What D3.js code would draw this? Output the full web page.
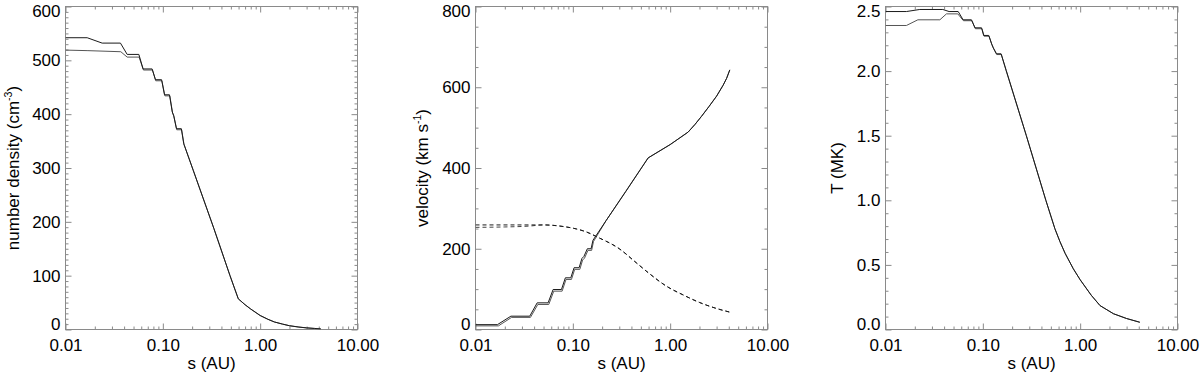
<!DOCTYPE html>
<html><head><meta charset="utf-8">
<script src="https://cdn.jsdelivr.net/npm/d3@7"></script>
<style>
body{margin:0;background:#fff}
svg{display:block}
text{font-family:"Liberation Sans",Arial,Helvetica,sans-serif;fill:#000}
</style>
</head><body>
<svg id="c" width="1200" height="375"></svg>
<script>
// ---------- data ----------
const xTicks = [0.01, 0.1, 1, 10];
const xTickLabels = ["0.01", "0.10", "1.00", "10.00"];

const densTicks = [0, 100, 200, 300, 400, 500, 600];
const velTicks = [0, 200, 400, 600, 800];
const tempTicks = [0, 0.5, 1.0, 1.5, 2.0, 2.5];

// number density (cm^-3) vs s (AU)
const densUpperS = [0.01,0.0167,0.0238,0.0367,0.043,0.0567,0.0627,0.0776,0.084,0.0971,0.104,0.117,0.125,0.129,0.138,0.155,0.164,0.205,0.334,0.49,0.596,0.7,0.8,1.0,1.2,1.4,1.7,2.0,2.5,3.0,3.6,4.2];
const densUpperV = [542,542,532,532,511,511,484,484,464,464,436,436,404,398,373,373,345,296,188,100,57,46,38,26,19,14,10,7,4.5,3,2,1];
const densLowerS = [0.01,0.017,0.037,0.043,0.057,0.0632,0.0783,0.0846,0.0978,0.105,0.118,0.126,0.13,0.139,0.156,0.165,0.205,0.334,0.49,0.596,0.7,0.8,1.0,1.2,1.4,1.7,2.0,2.5,3.0,3.6,4.2];
const densLowerV = [519,518,516,506,506,482,482,462,462,434,434,402,396,371,371,344,296,188,100,57,46,38,26,19,14,10,7,4.5,3,2,1];

// velocity (km/s) vs s (AU)
const velUpperS = [0.01,0.0168,0.0231,0.0361,0.043,0.0557,0.0627,0.0764,0.0838,0.0953,0.103,0.116,0.124,0.13,0.141,0.154,0.161,0.22,0.35,0.594,1.0,1.53,1.8,2.1,2.5,3.0,3.5,3.8,4.1];
const velUpperV = [12,12,33,33,66,66,99,99,128,128,153,153,176,181,200,200,221,270,342,425,458,489,508,528,552,578,605,622,643];
const velLowerS = [0.01,0.0172,0.0235,0.0367,0.0437,0.0566,0.0637,0.0776,0.0851,0.0968,0.1045,0.118,0.126,0.132,0.143,0.156,0.163,0.22,0.35,0.594,1.0,1.53,1.8,2.1,2.5,3.0,3.5,3.8,4.1];
const velLowerV = [9,9,30,30,62,62,95,95,124,124,149,149,172,177,196,196,218,270,342,425,458,489,508,528,552,578,605,622,643];
const velDashUpperS = [0.01,0.03,0.05,0.08,0.109,0.14,0.175,0.3,0.45,0.6,0.92,1.35,2.0,3.0,4.1];
const velDashUpperV = [259,259,259,255,249,241,230,200,165,140,107,86,67,52,43];
const velDashLowerS = [0.01,0.02,0.035,0.05,0.08,0.109,0.14,0.175,0.3,0.45,0.6,0.92,1.35,2.0,3.0,4.1];
const velDashLowerV = [253,254,256,259,255,249,241,230,200,165,140,107,86,67,52,43];

// temperature (MK) vs s (AU)
const tempUpperS = [0.01,0.0164,0.0225,0.0388,0.045,0.0558,0.0627,0.0764,0.083,0.097,0.102,0.115,0.123,0.128,0.138,0.154,0.174,0.28,0.444,0.55,0.62,0.7,0.85,1.0,1.3,1.6,2.2,3.0,4.1];
const tempUpperV = [2.461,2.461,2.477,2.477,2.461,2.461,2.397,2.397,2.335,2.335,2.276,2.276,2.211,2.18,2.134,2.134,2.005,1.5,1.0,0.78,0.68,0.59,0.47,0.385,0.265,0.185,0.122,0.085,0.056];
const tempLowerS = [0.01,0.0164,0.0215,0.0362,0.0423,0.0553,0.0632,0.0772,0.0838,0.098,0.103,0.116,0.124,0.129,0.139,0.155,0.174,0.28,0.444,0.55,0.62,0.7,0.85,1.0,1.3,1.6,2.2,3.0,4.1];
const tempLowerV = [2.353,2.353,2.397,2.397,2.443,2.443,2.39,2.39,2.328,2.328,2.27,2.27,2.205,2.175,2.128,2.128,2.0,1.5,1.0,0.78,0.68,0.59,0.47,0.385,0.265,0.185,0.122,0.085,0.056];

// ---------- drawing ----------
const svg = d3.select("#c");
const TOP = 6.5, BOTTOM = 329.5, W = 292;
const FRAME = "#8a8a8a", LINE = "#1a1a1a";
const FS = 17;

function zip(s, v) { return s.map((d, i) => [d, v[i]]); }

function drawPanel(o) {
  const x = d3.scaleLog().domain([0.01, 10]).range([o.left, o.left + W]);
  const y = d3.scaleLinear().domain(o.yDomain).range([BOTTOM, TOP]);
  const g = svg.append("g");

  const xMinor = x.ticks().filter(t => !xTicks.some(m => Math.abs(m - t) / m < 1e-6));
  const yMinor = d3.range(o.yDomain[0], o.yDomain[1] + 1e-9, o.yMinorStep)
    .filter(t => !o.yTicks.some(m => Math.abs(m - t) < 1e-6));

  const styleAxis = sel => {
    sel.select(".domain").remove();
    sel.selectAll(".tick line").attr("stroke", FRAME).attr("stroke-width", 1);
    sel.selectAll("text").attr("font-size", FS).attr("font-family", null).attr("fill", "#000");
  };

  // bottom
  g.append("g").attr("transform", `translate(0,${BOTTOM})`)
    .call(d3.axisBottom(x).tickValues(xTicks).tickSizeInner(-6).tickSizeOuter(0).tickPadding(9)
      .tickFormat((d, i) => xTickLabels[i])).call(styleAxis);
  g.append("g").attr("transform", `translate(0,${BOTTOM})`)
    .call(d3.axisBottom(x).tickValues(xMinor).tickSizeInner(-3).tickSizeOuter(0).tickFormat("")).call(styleAxis);
  // top
  g.append("g").attr("transform", `translate(0,${TOP})`)
    .call(d3.axisTop(x).tickValues(xTicks).tickSizeInner(-6).tickSizeOuter(0).tickFormat("")).call(styleAxis);
  g.append("g").attr("transform", `translate(0,${TOP})`)
    .call(d3.axisTop(x).tickValues(xMinor).tickSizeInner(-3).tickSizeOuter(0).tickFormat("")).call(styleAxis);
  // left
  const la = g.append("g").attr("transform", `translate(${o.left},0)`)
    .call(d3.axisLeft(y).tickValues(o.yTicks).tickSizeInner(-6).tickSizeOuter(0).tickPadding(5)
      .tickFormat(o.yFmt)).call(styleAxis);
  la.selectAll(".tick text").attr("y", d => {
    const p = y(d);
    return Math.min(Math.max(p, TOP + 5), BOTTOM - 5) - p;
  });
  g.append("g").attr("transform", `translate(${o.left},0)`)
    .call(d3.axisLeft(y).tickValues(yMinor).tickSizeInner(-3).tickSizeOuter(0).tickFormat("")).call(styleAxis);
  // right
  g.append("g").attr("transform", `translate(${o.left + W},0)`)
    .call(d3.axisRight(y).tickValues(o.yTicks).tickSizeInner(-6).tickSizeOuter(0).tickFormat("")).call(styleAxis);
  g.append("g").attr("transform", `translate(${o.left + W},0)`)
    .call(d3.axisRight(y).tickValues(yMinor).tickSizeInner(-3).tickSizeOuter(0).tickFormat("")).call(styleAxis);

  // frame
  g.append("rect").attr("x", o.left).attr("y", TOP).attr("width", W).attr("height", BOTTOM - TOP)
    .attr("fill", "none").attr("stroke", FRAME).attr("stroke-width", 1);

  // clip
  const cid = "clip" + o.left;
  svg.append("clipPath").attr("id", cid).append("rect")
    .attr("x", o.left).attr("y", TOP - 1).attr("width", W).attr("height", BOTTOM - TOP + 1);

  const line = d3.line().x(d => x(d[0])).y(d => y(d[1]));
  const smooth = d3.line().x(d => x(d[0])).y(d => y(d[1])).curve(d3.curveMonotoneX);
  const lg = g.append("g").attr("clip-path", `url(#${cid})`);
  o.series.forEach(sr => {
    lg.append("path").datum(zip(sr.s, sr.v))
      .attr("d", sr.dash ? smooth : line)
      .attr("fill", "none").attr("stroke", sr.color || LINE).attr("stroke-width", 1)
      .attr("stroke-dasharray", sr.dash ? "4,3" : null)
      .attr("stroke-linejoin", "round");
  });

  // x title
  g.append("text").attr("x", o.left + W / 2).attr("y", 369).attr("text-anchor", "middle")
    .attr("font-size", FS).text("s (AU)");
  // y title
  const yt = g.append("text")
    .attr("transform", `translate(${o.titleX},${(TOP + BOTTOM) / 2}) rotate(-90)`)
    .attr("text-anchor", "middle").attr("font-size", FS);
  o.title.forEach(p => {
    const t = yt.append("tspan").text(p.t);
    if (p.sup) t.attr("font-size", FS * 0.62).attr("dy", "-0.65em");
    if (p.after) t.attr("dy", "0.4em");
  });
}

drawPanel({
  left: 65.5, yDomain: [0, 600], yTicks: densTicks, yMinorStep: 10, yFmt: d3.format("d"),
  titleX: 19,
  title: [{t: "number density (cm"}, {t: "-3", sup: true}, {t: ")", after: true}],
  series: [
    {s: densLowerS, v: densLowerV, color: "#555"},
    {s: densUpperS, v: densUpperV}
  ]
});

drawPanel({
  left: 475.5, yDomain: [0, 800], yTicks: velTicks, yMinorStep: 50, yFmt: d3.format("d"),
  titleX: 428,
  title: [{t: "velocity (km s"}, {t: "-1", sup: true}, {t: ")", after: true}],
  series: [
    {s: velLowerS, v: velLowerV, color: "#555"},
    {s: velUpperS, v: velUpperV},
    {s: velDashLowerS, v: velDashLowerV, dash: true, color: "#444"},
    {s: velDashUpperS, v: velDashUpperV, dash: true}
  ]
});

drawPanel({
  left: 885.5, yDomain: [0, 2.5], yTicks: tempTicks, yMinorStep: 0.1, yFmt: d3.format(".1f"),
  titleX: 843,
  title: [{t: "T (MK)"}],
  series: [
    {s: tempLowerS, v: tempLowerV, color: "#555"},
    {s: tempUpperS, v: tempUpperV}
  ]
});
</script>
</body></html>
